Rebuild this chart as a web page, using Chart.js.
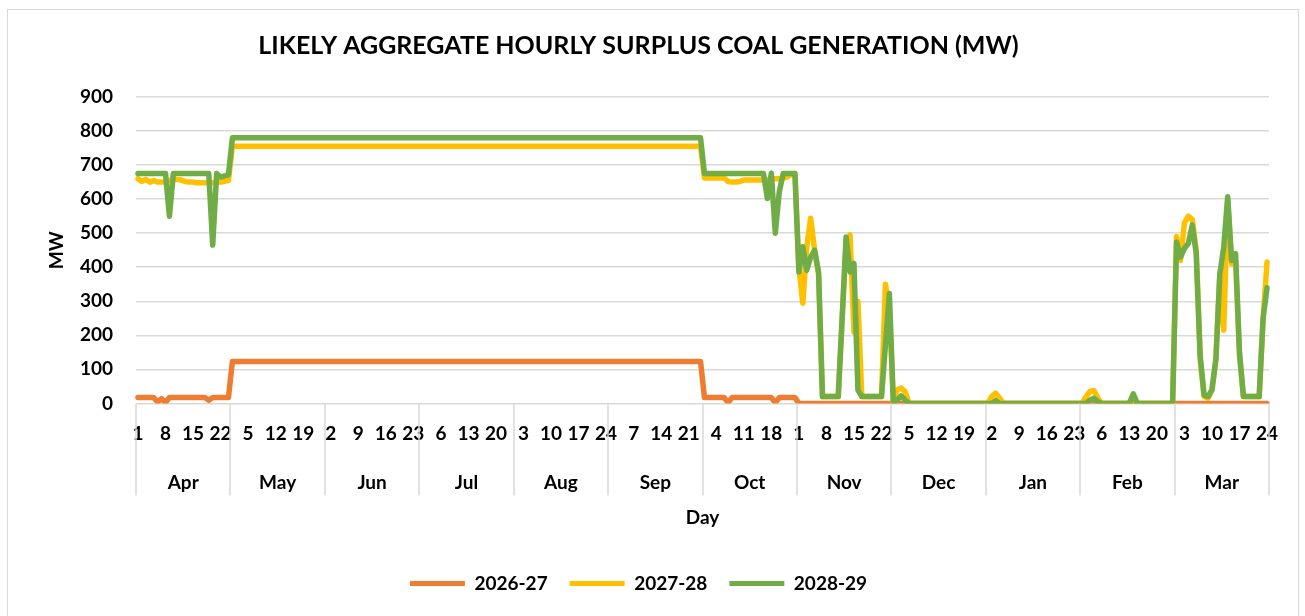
<!DOCTYPE html>
<html lang="en">
<head>
<meta charset="UTF-8">
<title>Likely Aggregate Hourly Surplus Coal Generation</title>
<script src="https://cdn.jsdelivr.net/npm/chart.js"></script>
<style>
  html, body { margin: 0; padding: 0; background: #fff; }
  .wrap { position: relative; width: 1305px; height: 616px; overflow: hidden; }
  .frame { position: absolute; left: 7px; top: 9px; width: 1290px; height: 640px; border: 1px solid #d9d9d9; pointer-events: none; }
  canvas { position: absolute; left: 0; top: 0; }
</style>
</head>
<body>
<div class="wrap">
  <canvas id="chart" width="1305" height="616"></canvas>
  <div class="frame"></div>
</div>

<script>
  // categories: 24 hourly points per month, labelled 1..24
  const months = ['Apr', 'May', 'Jun', 'Jul', 'Aug', 'Sep', 'Oct', 'Nov', 'Dec', 'Jan', 'Feb', 'Mar'];
  const days = ['1','2','3','4','5','6','7','8','9','10','11','12','13','14','15','16','17','18','19','20','21','22','23','24'];
  const yTicks = [0, 100, 200, 300, 400, 500, 600, 700, 800, 900];

  // MW, one row per month (Apr .. Mar)
  const s2026 = [
    17,17,17,17,17,4,14,3,17,17,17,17,17,17,17,17,17,17,9,17,17,17,17,17,
    123,123,123,123,123,123,123,123,123,123,123,123,123,123,123,123,123,123,123,123,123,123,123,123,
    123,123,123,123,123,123,123,123,123,123,123,123,123,123,123,123,123,123,123,123,123,123,123,123,
    123,123,123,123,123,123,123,123,123,123,123,123,123,123,123,123,123,123,123,123,123,123,123,123,
    123,123,123,123,123,123,123,123,123,123,123,123,123,123,123,123,123,123,123,123,123,123,123,123,
    123,123,123,123,123,123,123,123,123,123,123,123,123,123,123,123,123,123,123,123,123,123,123,123,
    17,17,17,17,17,17,2,17,17,17,17,17,17,17,17,17,17,17,2,17,17,17,17,17,
    0,0,0,0,0,0,0,0,0,0,0,0,0,0,0,0,0,0,0,0,0,0,0,0,
    0,0,0,0,0,0,0,0,0,0,0,0,0,0,0,0,0,0,0,0,0,0,0,0,
    0,0,0,0,0,0,0,0,0,0,0,0,0,0,0,0,0,0,0,0,0,0,0,0,
    0,0,0,0,0,0,0,0,0,0,0,0,0,0,0,0,0,0,0,0,0,0,0,0,
    0,0,0,0,0,0,0,0,0,0,0,0,0,0,0,0,0,0,0,0,0,0,0,0
  ];

  const s2027 = [
    660,652,658,650,655,650,650,652,655,658,658,656,652,650,650,648,648,648,648,648,650,650,652,655,
    755,755,755,755,755,755,755,755,755,755,755,755,755,755,755,755,755,755,755,755,755,755,755,755,
    755,755,755,755,755,755,755,755,755,755,755,755,755,755,755,755,755,755,755,755,755,755,755,755,
    755,755,755,755,755,755,755,755,755,755,755,755,755,755,755,755,755,755,755,755,755,755,755,755,
    755,755,755,755,755,755,755,755,755,755,755,755,755,755,755,755,755,755,755,755,755,755,755,755,
    755,755,755,755,755,755,755,755,755,755,755,755,755,755,755,755,755,755,755,755,755,755,755,755,
    662,662,662,662,662,662,652,650,650,652,656,656,656,656,656,656,656,658,660,660,662,665,672,675,
    400,294,460,544,450,380,20,20,20,20,20,250,470,495,210,300,20,20,20,20,20,20,350,280,
    5,40,45,35,0,0,0,0,0,0,0,0,0,0,0,0,0,0,0,0,0,0,0,0,
    0,20,30,15,0,0,0,0,0,0,0,0,0,0,0,0,0,0,0,0,0,0,0,0,
    0,20,35,38,15,0,0,0,0,0,0,0,0,8,0,0,0,0,0,0,0,0,0,0,
    490,420,530,550,540,450,130,20,15,40,130,380,215,600,410,420,140,20,20,20,20,20,250,415
  ];

  const s2028 = [
    675,675,675,675,675,675,675,675,550,675,675,675,675,675,675,675,675,675,675,465,675,665,668,672,
    780,780,780,780,780,780,780,780,780,780,780,780,780,780,780,780,780,780,780,780,780,780,780,780,
    780,780,780,780,780,780,780,780,780,780,780,780,780,780,780,780,780,780,780,780,780,780,780,780,
    780,780,780,780,780,780,780,780,780,780,780,780,780,780,780,780,780,780,780,780,780,780,780,780,
    780,780,780,780,780,780,780,780,780,780,780,780,780,780,780,780,780,780,780,780,780,780,780,780,
    780,780,780,780,780,780,780,780,780,780,780,780,780,780,780,780,780,780,780,780,780,780,780,780,
    675,675,675,675,675,675,675,675,675,675,675,675,675,675,675,675,602,676,500,620,675,675,675,675,
    386,460,391,430,450,386,20,20,20,20,20,250,489,386,411,40,20,20,20,20,20,20,170,323,
    5,10,22,10,0,0,0,0,0,0,0,0,0,0,0,0,0,0,0,0,0,0,0,0,
    0,0,8,0,0,0,0,0,0,0,0,0,0,0,0,0,0,0,0,0,0,0,0,0,
    0,0,10,15,5,0,0,0,0,0,0,0,0,28,0,0,0,0,0,0,0,0,0,0,
    474,430,455,470,524,440,140,25,20,40,130,380,460,607,420,440,150,20,20,20,20,20,250,340
  ];

  const seriesNames = ['2026-27', '2027-28', '2028-29'];
  const seriesColors = ['#ED7D31', '#FFC000', '#70AD47'];

  // one category per hour point: "1".."24" repeated for each month
  const labels = [];
  months.forEach(() => days.forEach(d => labels.push(d)));

  const FONT = 'Lato, "Open Sans", sans-serif';
  const tickFont = { family: FONT, size: 19, weight: 'bold' };

  // vertical separators between month groups under the axis
  const monthLines = {
    id: 'monthLines',
    afterDraw(chart) {
      const x = chart.scales.x, m = chart.scales.month, ctx = chart.ctx;
      const yBottom = m.top + 52;
      ctx.save();
      ctx.strokeStyle = '#d9d9d9';
      ctx.lineWidth = 1.5;
      for (let k = 0; k <= months.length; k++) {
        const px = Math.round(x.getPixelForValue(k * days.length - 0.5));
        ctx.beginPath();
        ctx.moveTo(px, chart.chartArea.bottom);
        ctx.lineTo(px, yBottom);
        ctx.stroke();
      }
      ctx.restore();
    }
  };

  const sets = [s2026, s2027, s2028].map((data, i) => ({
    label: seriesNames[i],
    data: data,
    borderColor: seriesColors[i],
    backgroundColor: seriesColors[i],
    borderWidth: 5.5,
    pointRadius: 0,
    tension: 0,
    fill: false,
    borderJoinStyle: 'round',
    borderCapStyle: 'round',
    order: 3 - i
  }));

  new Chart(document.getElementById('chart'), {
    type: 'line',
    data: { labels: labels, datasets: sets },
    plugins: [monthLines],
    options: {
      responsive: false,
      animation: false,
      layout: { padding: { left: 8, right: 36, top: 0, bottom: 13 } },
      plugins: {
        tooltip: { enabled: false },
        title: {
          display: true,
          text: 'LIKELY AGGREGATE HOURLY SURPLUS COAL GENERATION (MW)',
          color: '#000',
          font: { family: FONT, size: 25, weight: 'bold' },
          padding: { top: 31, bottom: 36 }
        },
        legend: {
          position: 'bottom',
          labels: {
            color: '#000',
            font: tickFont,
            boxWidth: 55,
            boxHeight: 5,
            padding: 22,
            generateLabels(chart) {
              const items = Chart.defaults.plugins.legend.labels.generateLabels(chart);
              items.forEach(it => { it.lineWidth = 0; });
              return items.sort((a, b) => a.datasetIndex - b.datasetIndex);
            }
          }
        }
      },
      scales: {
        x: {
          type: 'category',
          offset: true,
          grid: { display: false, drawTicks: false },
          border: { display: false },
          afterFit(s) { s.height = 40; },
          ticks: {
            autoSkip: false,
            maxRotation: 0,
            color: '#000',
            font: tickFont,
            padding: 19,
            callback: function (value, index) {
              return index % 7 === 0 ? this.getLabelForValue(value) : '';
            }
          }
        },
        month: {
          type: 'category',
          position: 'bottom',
          labels: months,
          offset: true,
          grid: { display: false, drawTicks: false },
          border: { display: false },
          afterFit(s) { s.height = 108.6; },
          ticks: { color: '#000', font: tickFont, padding: 28 },
          title: {
            display: true,
            text: 'Day',
            color: '#000',
            font: tickFont,
            padding: { top: 13, bottom: 23.2 }
          }
        },
        y: {
          min: yTicks[0],
          max: yTicks[yTicks.length - 1],
          afterFit(s) { s.width = 128; },
          ticks: { stepSize: 100, color: '#000', font: tickFont, padding: 23 },
          grid: { color: '#d9d9d9', lineWidth: 1.5, drawTicks: false },
          border: { display: false },
          title: {
            display: true,
            text: 'MW',
            color: '#000',
            font: tickFont,
            padding: { top: 37.6, bottom: 12 }
          }
        }
      }
    }
  });
</script>
</body>
</html>
